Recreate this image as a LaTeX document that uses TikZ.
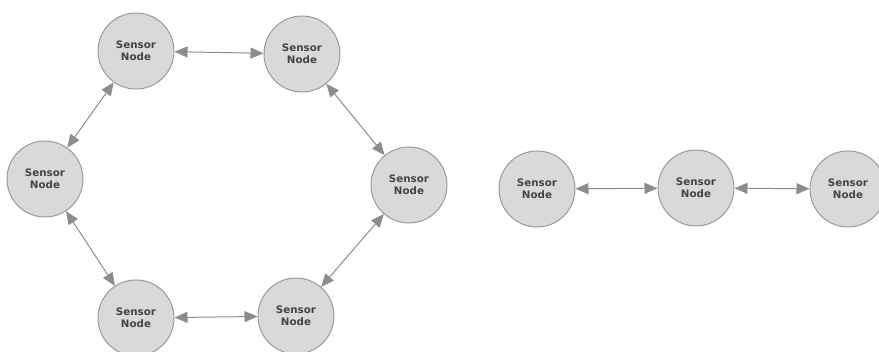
\documentclass[tikz,border=0pt]{standalone}
\usepackage{fontspec}
\setmainfont{DejaVu Sans}
\usetikzlibrary{arrows.meta}
\definecolor{nodefill}{HTML}{D9D9D9}
\definecolor{nodeline}{HTML}{9A9A9A}
\definecolor{linkline}{HTML}{8C8C8C}
\definecolor{labeltext}{HTML}{444444}
\begin{document}
\begin{tikzpicture}[x=1pt,y=-1pt,
  sensor/.style={circle, draw=nodeline, fill=nodefill, line width=1pt,
    minimum size=76pt, inner sep=0pt, align=center, text=labeltext,
    font=\fontsize{10.3}{12.2}\selectfont\bfseries},
  link/.style={draw=linkline, line width=1pt,
    {Triangle[length=13pt,width=11pt]}-{Triangle[length=13pt,width=11pt]}}]
\useasboundingbox (0,0) rectangle (879,352);
% ring of six sensors
\node[sensor] (tl) at (136,51) {Sensor\\Node};
\node[sensor] (tr) at (302,54) {Sensor\\Node};
\node[sensor] (l)  at (45,179) {Sensor\\Node};
\node[sensor] (r)  at (409,185) {Sensor\\Node};
\node[sensor] (bl) at (136,318) {Sensor\\Node};
\node[sensor] (br) at (296,316) {Sensor\\Node};
\draw[link] (tl) -- (tr);
\draw[link] (tr) -- (r);
\draw[link] (r) -- (br);
\draw[link] (br) -- (bl);
\draw[link] (bl) -- (l);
\draw[link] (l) -- (tl);
% chain of three sensors
\node[sensor] (c1) at (537,189) {Sensor\\Node};
\node[sensor] (c2) at (696,188) {Sensor\\Node};
\node[sensor] (c3) at (848,189) {Sensor\\Node};
\draw[link] (c1) -- (c2);
\draw[link] (c2) -- (c3);
\end{tikzpicture}
\end{document}
